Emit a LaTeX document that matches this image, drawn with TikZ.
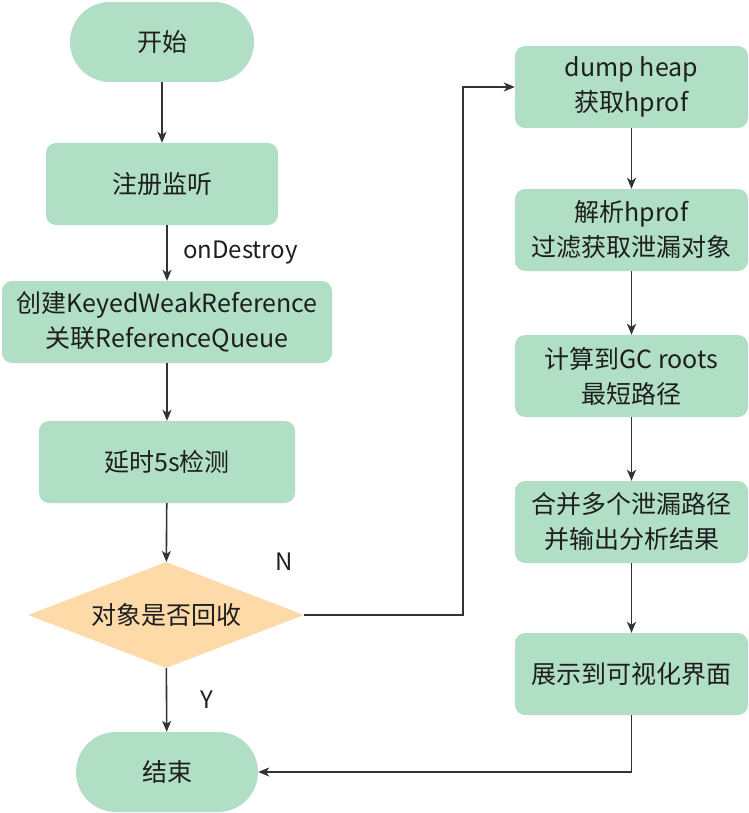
\documentclass[tikz,border=0pt]{standalone}
\usepackage{fontspec}
\setmainfont{Noto Sans CJK SC}
\usepackage{xcolor}
\usetikzlibrary{shapes.geometric,arrows.meta,positioning}
\definecolor{boxgreen}{HTML}{B1DFC5}
\definecolor{decorange}{HTML}{FDDAA8}
\definecolor{linegray}{HTML}{333333}
\definecolor{textdark}{HTML}{1E1E1E}
\tikzset{
	stepbox/.style={
			rectangle, rounded corners=10pt, fill=boxgreen, draw=none,
			minimum height=82pt, inner sep=0pt, align=center,
			font=\fontsize{25}{35}\selectfont, text=textdark
		},
	terminal/.style={stepbox, rounded corners=40pt, minimum height=80pt},
	decision/.style={
			diamond, aspect=2.6, fill=decorange, draw=none, inner sep=0pt,
			minimum width=276pt, minimum height=106pt,
			font=\fontsize{25}{35}\selectfont, text=textdark
		},
	flowlabel/.style={font=\fontsize{24}{30}\selectfont, text=textdark},
	flow/.style={draw=linegray, line width=1.6pt, -{Stealth[length=11pt,width=9pt,inset=3pt]}}
}

\begin{document}
\begin{tikzpicture}[x=1pt, y=-1pt]
	\useasboundingbox (0,0) rectangle (748,813);

	% Left column
	\node[terminal, minimum width=184pt] (start) at (162,42) {开始};
	\node[stepbox, minimum width=232pt] (reg) at (162,184) {注册监听};
	\node[stepbox, minimum width=330pt] (create) at (167,322) {创建KeyedWeakReference\\关联ReferenceQueue};
	\node[stepbox, minimum width=256pt] (delay) at (167,462) {延时5s检测};
	\node[decision] (check) at (166,615) {对象是否回收};
	\node[terminal, minimum width=182pt] (finish) at (167,772) {结束};

	% Right column
	\node[stepbox, minimum width=233pt] (dump) at (631.5,87) {dump heap\\获取hprof};
	\node[stepbox, minimum width=233pt] (parse) at (631.5,230) {解析hprof\\过滤获取泄漏对象};
	\node[stepbox, minimum width=233pt] (calc) at (631.5,376) {计算到GC roots\\最短路径};
	\node[stepbox, minimum width=233pt] (merge) at (631.5,522) {合并多个泄漏路径\\并输出分析结果};
	\node[stepbox, minimum width=233pt] (show) at (631.5,674) {展示到可视化界面};

	% Connectors
	\draw[flow] (start) -- (reg);
	\draw[flow] (reg.south -| create) -- (create.north)
		node[midway, right=12pt, flowlabel] (ondestroy) {onDestroy};
	\draw[flow] (create) -- (delay);
	\draw[flow] (delay) -- (check);
	\draw[flow] (check) -- (finish)
		node[midway, right=30pt, flowlabel] (yes) {Y};

	\coordinate (bend) at (463,615);
	\draw[flow] (check.east) -- (bend) |- (dump.west);
	\node[flowlabel] (no) at (284,562) {N};

	\draw[flow] (dump) -- (parse);
	\draw[flow] (parse) -- (calc);
	\draw[flow] (calc) -- (merge);
	\draw[flow] (merge) -- (show);
	\draw[flow] (show.south) |- (finish.east);
\end{tikzpicture}
\end{document}
